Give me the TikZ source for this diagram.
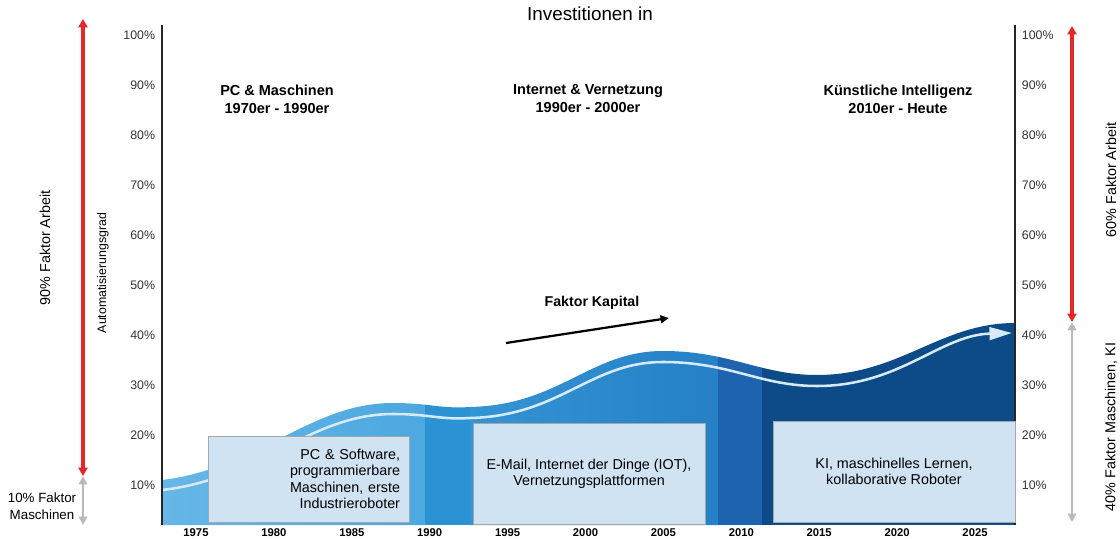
\documentclass[tikz,border=0pt]{standalone}
\usepackage{fontspec}
\setmainfont{Liberation Sans}
\usetikzlibrary{arrows.meta}
\definecolor{bandAl}{HTML}{66B7E7}
\definecolor{bandAr}{HTML}{4CA8DF}
\definecolor{bandB}{HTML}{2B93D4}
\definecolor{bandCl}{HTML}{3594D3}
\definecolor{bandCr}{HTML}{2580C6}
\definecolor{bandD}{HTML}{1E63AE}
\definecolor{bandE}{HTML}{0C4A88}
\definecolor{boxfill}{HTML}{D0E3F3}
\definecolor{flowc}{HTML}{D6EAF7}
\definecolor{arbeitred}{HTML}{E8262A}
\definecolor{maschgray}{HTML}{B9B9B9}

\begin{document}
\begin{tikzpicture}[x=0.025cm,y=-0.025cm,
	tick/.style={font=\fontsize{8.8}{10}\selectfont, text=black!80},
	year/.style={font=\bfseries\fontsize{8}{9}\selectfont},
	era/.style={font=\bfseries\fontsize{10.3}{12.8}\selectfont, align=center},
	infobox/.style={draw=black!35, fill=boxfill, inner sep=0pt,
		font=\fontsize{10.2}{11.6}\selectfont},
	sidelabel/.style={font=\fontsize{10.2}{12}\selectfont},
	arbeit/.style={draw=arbeitred, line width=2.4pt, {Triangle[length=6pt,width=6.5pt]}-{Triangle[length=6pt,width=6.5pt]}},
	maschine/.style={draw=maschgray, line width=2pt, {Triangle[length=6pt,width=6pt]}-{Triangle[length=6pt,width=6pt]}}]
	\useasboundingbox (0,0) rectangle (1120,539);
	% Area under the curve, cut into the eras
	\begin{scope}
		\clip (162,525) -- (162,480) .. controls (260,468) and (310,403) .. (393,403)
			.. controls (430,403) and (440,409) .. (470,407)
			.. controls (560,405) and (590,351) .. (663,351)
			.. controls (730,351) and (760,375) .. (817,375)
			.. controls (900,375) and (940,323) .. (1015,323) -- (1015,525) -- cycle;
		\shade[left color=bandAl, right color=bandAr] (162,300) rectangle (425,525);
		\fill[bandB] (425,300) rectangle (470,525);
		\shade[left color=bandCl, right color=bandCr] (470,300) rectangle (718,525);
		\fill[bandD] (718,300) rectangle (762,525);
		\fill[bandE] (762,300) rectangle (1015,525);
	\end{scope}
	% White flow line
	\draw[flowc, line width=1.8pt, -{Triangle[length=16pt,width=9pt]}]
		(162,490) .. controls (260,479) and (310,414) .. (393,414)
			.. controls (430,414) and (440,420) .. (470,418)
			.. controls (560,416) and (590,362) .. (663,362)
			.. controls (730,362) and (760,386) .. (817,386)
			.. controls (900,386) and (940,335) .. (1012,333);
	% Axes
	\coordinate (axLtop) at (162,25);
	\coordinate (axLbot) at (162,525);
	\coordinate (axRtop) at (1015,25);
	\coordinate (axRbot) at (1015,525);
	\draw[line width=0.9pt, black!85] (axLtop) -- (axLbot);
	\draw[line width=0.9pt, black!85] (axRtop) -- (axRbot);
	% Percent labels on both axes
	\foreach \p in {10,20,...,100}{
		\node[tick, anchor=east] (tl\p) at (160,535-5*\p) {\p\%};
		\node[tick, anchor=west] (tr\p) at (1017,535-5*\p) {\p\%};}
	% Years
	\foreach \yr [count=\i from 0] in {1975,1980,...,2025}
		\node[year] (yr\yr) at (196+77.9*\i,533) {\yr};
	% Title and eras
	\node[font=\fontsize{13.4}{15}\selectfont] (title) at (590,14) {Investitionen in};
	\node[era] (eraPC) at (277,99) {PC \& Maschinen\\1970er - 1990er};
	\node[era] (eraNet) at (588,99) {Internet \& Vernetzung\\1990er - 2000er};
	\node[era] (eraKI) at (898,99) {Künstliche Intelligenz\\2010er - Heute};
	% Boxes
	\node[infobox, minimum width=5.025cm, minimum height=2.15cm, text width=4.55cm, align=right]
		(boxPC) at (309,479) {PC \& Software,\\programmierbare\\Maschinen, erste\\Industrieroboter};
	\node[infobox, minimum width=5.8cm, minimum height=2.525cm, align=center]
		(boxNet) at (589,474) {E-Mail, Internet der Dinge (IOT),\\Vernetzungsplattformen};
	\node[infobox, minimum width=6.05cm, minimum height=2.525cm, align=center]
		(boxKI) at (894,471.5) {KI, maschinelles Lernen,\\kollaborative Roboter};
	% Faktor Kapital
	\node[font=\bfseries\fontsize{10.1}{12}\selectfont] (kapital) at (592,303) {Faktor Kapital};
	\coordinate (kapA) at (506,343);
	\coordinate (kapB) at (669,318);
	\draw[line width=1.6pt, -{Triangle[length=6pt,width=5.5pt]}] (kapA) -- (kapB);
	% Left side arrows
	\coordinate (lTop) at (83,19);
	\coordinate (lMid) at (83,476);
	\coordinate (lBot) at (83,525);
	\draw[maschine] (lMid) -- (lBot);
	\draw[arbeit] (lTop) -- (lMid);
	\node[sidelabel, rotate=90] (arbeitL) at (45,248) {90\% Faktor Arbeit};
	\node[font=\fontsize{8.8}{10}\selectfont, rotate=90] (autograd) at (103,273) {Automatisierungsgrad};
	\node[font=\fontsize{9.5}{12}\selectfont, align=center] (maschL) at (42,506) {10\% Faktor\\Maschinen};
	% Right side arrows
	\coordinate (rTop) at (1072,26);
	\coordinate (rMid) at (1072,322);
	\coordinate (rBot) at (1072,522);
	\draw[maschine] (rMid) -- (rBot);
	\draw[arbeit] (rTop) -- (rMid);
	\node[sidelabel, rotate=90] (arbeitR) at (1111,180) {60\% Faktor Arbeit};
	\node[sidelabel, rotate=90] (maschR) at (1111,427) {40\% Faktor Maschinen, KI};
\end{tikzpicture}
\end{document}
